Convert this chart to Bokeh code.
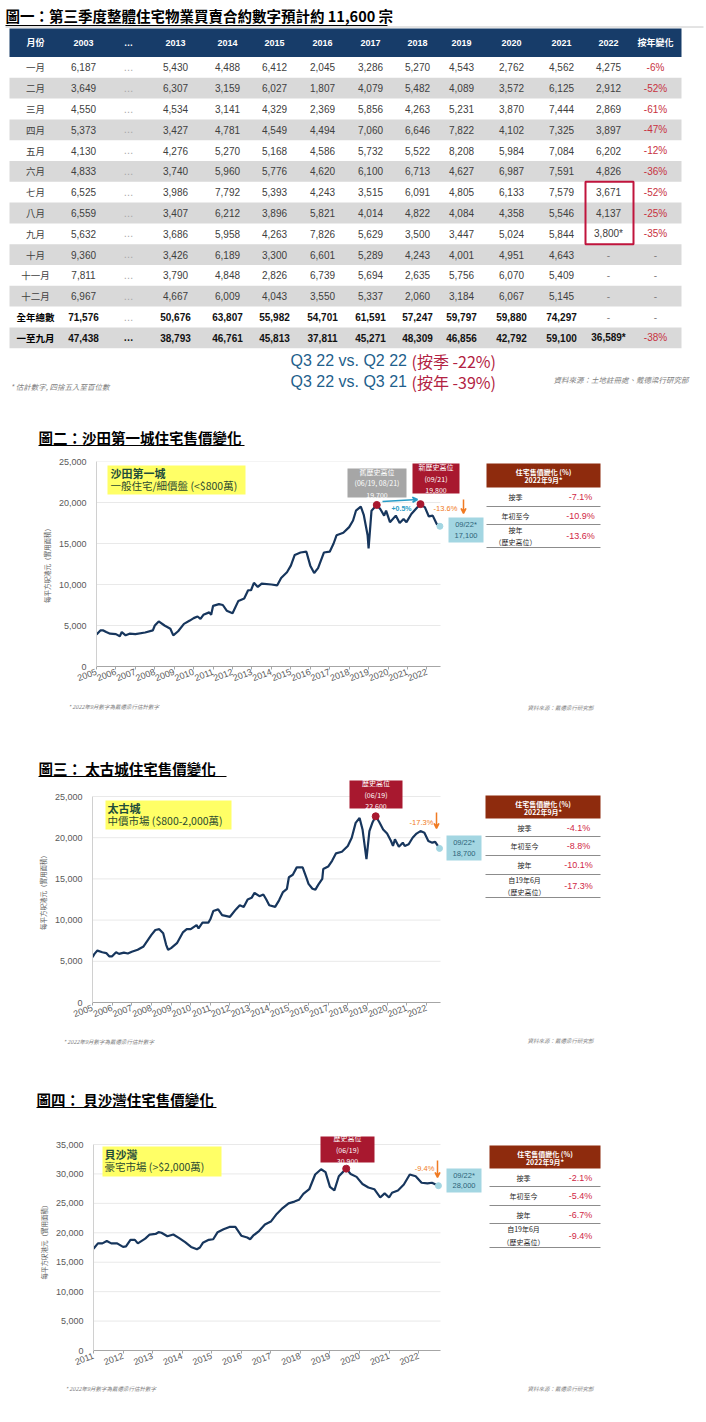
from bokeh.plotting import figure
from bokeh.layouts import column, row
from bokeh.models import Range1d, FixedTicker, NumeralTickFormatter, Arrow, VeeHead
from bokeh.core.properties import value
from bokeh.embed import file_html
from bokeh.resources import INLINE

CJK = "Noto Sans CJK TC"
LAT = "Liberation Sans"

# ---------------- Figure 1 : table data ----------------
title1 = "圖一：第三季度整體住宅物業買賣合約數字預計約 11,600 宗"
months = ["一月", "二月", "三月", "四月", "五月", "六月", "七月", "八月", "九月",
          "十月", "十一月", "十二月", "全年總數", "一至九月"]
year_cols = ["2003", "…", "2013", "2014", "2015", "2016", "2017", "2018",
             "2019", "2020", "2021", "2022"]
v2003 = [6187, 3649, 4550, 5373, 4130, 4833, 6525, 6559, 5632, 9360, 7811, 6967, 71576, 47438]
v2013 = [5430, 6307, 4534, 3427, 4276, 3740, 3986, 3407, 3686, 3426, 3790, 4667, 50676, 38793]
v2014 = [4488, 3159, 3141, 4781, 5270, 5960, 7792, 6212, 5958, 6189, 4848, 6009, 63807, 46761]
v2015 = [6412, 6027, 4329, 4549, 5168, 5776, 5393, 3896, 4263, 3300, 2826, 4043, 55982, 45813]
v2016 = [2045, 1807, 2369, 4494, 4586, 4620, 4243, 5821, 7826, 6601, 6739, 3550, 54701, 37811]
v2017 = [3286, 4079, 5856, 7060, 5732, 6100, 3515, 4014, 5629, 5289, 5694, 5337, 61591, 45271]
v2018 = [5270, 5482, 4263, 6646, 5522, 6713, 6091, 4822, 3500, 4243, 2635, 2060, 57247, 48309]
v2019 = [4543, 4089, 5231, 7822, 8208, 4627, 4805, 4084, 3447, 4001, 5756, 3184, 59797, 46856]
v2020 = [2762, 3572, 3870, 4102, 5984, 6987, 6133, 4358, 5024, 4951, 6070, 6067, 59880, 42792]
v2021 = [4562, 6125, 7444, 7325, 7084, 7591, 7579, 5546, 5844, 4643, 5409, 5145, 74297, 59100]
v2022 = [4275, 2912, 2869, 3897, 6202, 4826, 3671, 4137, 3800, None, None, None, None, 36589]
est2022 = [False, False, False, False, False, False, False, False, True,
           False, False, False, False, True]
yoy = [-6, -52, -61, -47, -12, -36, -52, -25, -35, None, None, None, None, -38]
q_left = ["Q3 22 vs. Q2 22 ", "Q3 22 vs. Q3 21 "]
q_right = ["(按季 -22%)", "(按年 -39%)"]
note1 = "* 估計數字, 四捨五入至百位數"
source1 = "資料來源：土地註冊處、戴德梁行研究部"

# ---------------- Figure 2 : 沙田第一城 ----------------
title2 = "圖二：沙田第一城住宅售價變化"
st_t = [2005.0, 2005.2, 2005.35, 2005.5, 2005.7, 2006.0, 2006.2, 2006.3, 2006.5, 2006.7,
        2007.0, 2007.5, 2007.9, 2008.0, 2008.2, 2008.5, 2008.8, 2008.95, 2009.2, 2009.5,
        2009.8, 2010.0, 2010.2, 2010.35, 2010.5, 2010.8, 2010.9, 2011.0, 2011.3, 2011.5,
        2011.7, 2012.0, 2012.3, 2012.6, 2012.8, 2012.95, 2013.1, 2013.3, 2013.5, 2014.0,
        2014.3, 2014.5, 2014.8, 2015.0, 2015.2, 2015.5, 2015.8, 2016.0, 2016.2, 2016.4,
        2016.7, 2017.0, 2017.2, 2017.35, 2017.7, 2018.0, 2018.2, 2018.35, 2018.6, 2018.75,
        2018.95, 2019.0, 2019.15, 2019.42, 2019.6, 2019.8, 2019.9, 2020.1, 2020.4, 2020.6,
        2020.8, 2020.95, 2021.2, 2021.5, 2021.67, 2021.9, 2022.1, 2022.3, 2022.5, 2022.67]
st_v = [3900, 4400, 4400, 4200, 4000, 3950, 3700, 4200, 3800, 4000,
        3950, 4150, 4400, 5000, 5500, 5000, 4600, 3800, 4300, 5200,
        5600, 5900, 6100, 5800, 6300, 6600, 6300, 7400, 7600, 7500,
        6800, 6500, 8000, 8300, 9300, 9300, 10200, 9700, 10100, 10000,
        9900, 10800, 11500, 12300, 13600, 13900, 14000, 12300, 11400, 12000,
        13900, 14000, 15000, 16000, 16300, 17000, 17800, 19000, 19500, 18500,
        16000, 14400, 19000, 19700, 19200, 18400, 19000, 17600, 18400, 17500,
        18000, 17600, 18600, 19400, 19800, 19400, 18300, 18400, 17400, 17100]
st_peak_t = [2019.42, 2021.67]
st_peak_v = [19700, 19800]
st_years = list(range(2005, 2023))
st_labels = ["按季", "年初至今", "按年\n（歷史高位）"]
st_chg = [-7.1, -10.9, -13.6]

# ---------------- Figure 3 : 太古城 ----------------
title3 = "圖三： 太古城住宅售價變化"
tk_t = [2005.0, 2005.1, 2005.25, 2005.5, 2005.7, 2005.85, 2006.0, 2006.2, 2006.35, 2006.6,
        2006.8, 2007.0, 2007.3, 2007.6, 2007.8, 2008.0, 2008.2, 2008.4, 2008.6, 2008.75,
        2008.85, 2009.0, 2009.3, 2009.6, 2009.8, 2010.0, 2010.3, 2010.4, 2010.6, 2010.9,
        2011.0, 2011.15, 2011.4, 2011.6, 2012.0, 2012.3, 2012.5, 2012.7, 2012.9, 2013.1,
        2013.25, 2013.5, 2013.7, 2013.85, 2014.0, 2014.3, 2014.5, 2014.7, 2014.9, 2015.0,
        2015.2, 2015.4, 2015.7, 2015.9, 2016.0, 2016.2, 2016.35, 2016.5, 2016.7, 2016.75,
        2017.0, 2017.2, 2017.4, 2017.7, 2018.0, 2018.2, 2018.4, 2018.6, 2018.75, 2018.95,
        2019.1, 2019.25, 2019.42, 2019.6, 2019.8, 2020.0, 2020.2, 2020.3, 2020.4, 2020.6,
        2020.8, 2020.9, 2021.1, 2021.3, 2021.5, 2021.7, 2021.9, 2022.1, 2022.3, 2022.45,
        2022.67]
tk_v = [5500, 5900, 6300, 6100, 6000, 5600, 5600, 6100, 5900, 6050,
        5950, 6150, 6400, 6800, 7500, 8200, 8800, 8900, 8400, 7000,
        6400, 6600, 7200, 8500, 8900, 8900, 9400, 9000, 9700, 9700,
        10100, 11100, 11300, 10600, 10400, 11300, 11800, 11600, 12500, 12700,
        13300, 12900, 13100, 12500, 11800, 11600, 12400, 13400, 13800, 15200,
        15500, 16400, 16400, 15100, 14400, 13800, 13700, 14300, 15000, 16200,
        16500, 17200, 18100, 18300, 19000, 20000, 21800, 22400, 21000, 17400,
        20800, 21800, 22600, 21900, 21000, 20500, 19600, 19000, 19800, 18900,
        19400, 19000, 19200, 20000, 20500, 20800, 20600, 19600, 19400, 19500,
        18700]
tk_peak_t = [2019.42]
tk_peak_v = [22600]
tk_years = list(range(2005, 2023))
tk_labels = ["按季", "年初至今", "按年", "自19年6月\n（歷史高位）"]
tk_chg = [-4.1, -8.8, -10.1, -17.3]

# ---------------- Figure 4 : 貝沙灣 ----------------
title4 = "圖四： 貝沙灣住宅售價變化"
pb_t = [2011.0, 2011.15, 2011.3, 2011.45, 2011.6, 2011.8, 2012.0, 2012.1, 2012.25, 2012.4,
        2012.5, 2012.75, 2012.9, 2013.1, 2013.2, 2013.3, 2013.5, 2013.7, 2013.9, 2014.1,
        2014.3, 2014.5, 2014.6, 2014.7, 2014.9, 2015.05, 2015.2, 2015.4, 2015.6, 2015.8,
        2016.0, 2016.2, 2016.3, 2016.4, 2016.6, 2016.8, 2017.0, 2017.2, 2017.4, 2017.6,
        2017.8, 2017.95, 2018.1, 2018.3, 2018.5, 2018.7, 2018.85, 2019.0, 2019.15, 2019.3,
        2019.55, 2019.7, 2019.9, 2020.1, 2020.3, 2020.5, 2020.7, 2020.85, 2021.0, 2021.1,
        2021.3, 2021.5, 2021.7, 2021.9, 2022.1, 2022.3, 2022.45, 2022.67]
pb_v = [17300, 18200, 18200, 18600, 18200, 18200, 17600, 17700, 18800, 18800,
        18200, 19000, 19700, 19800, 20100, 20000, 19400, 19700, 19100, 18400,
        17600, 17200, 17500, 18300, 18800, 18900, 20100, 20600, 21000, 21000,
        19500, 19200, 18900, 19500, 20300, 21400, 21900, 23200, 24200, 25000,
        25300, 25600, 26600, 27400, 29900, 30800, 30300, 27800, 27200, 29600,
        30900, 30000, 29500, 28300, 27700, 27400, 26000, 26700, 26000, 26800,
        27200, 28200, 29900, 29600, 28500, 28400, 28500, 28000]
pb_peak_t = [2019.55]
pb_peak_v = [30900]
pb_years = list(range(2011, 2023))
pb_labels = ["按季", "年初至今", "按年", "自19年6月\n（歷史高位）"]
pb_chg = [-2.1, -5.4, -6.7, -9.4]

chart_note = "* 2022年9月數字為戴德梁行估計數字"
chart_source = "資料來源：戴德梁行研究部"
ylab = "每平方呎港元（實用面積）"
side_head = ["住宅售價變化 (%)", "2022年9月*"]

# ---------------- colours ----------------
HDR = "#173C69"
BAND = "#D9D9D9"
TXT = "#404040"
RED_T = "#C8313E"
LINE_C = "#17365D"
PEAK_C = "#A8182F"
BOX_GRAY = "#A6A6A6"
BLUE_BOX = "#A3D6E2"
BLUE_TXT = "#2D6379"
ORANGE = "#F07A22"
TEAL = "#2A9CC6"
YELLOW = "#FFFF66"
GREEN_T = "#1E4D3B"
BROWN = "#8E2B0D"
VAL_RED = "#D01F45"
GRAY_T = "#7F7F7F"
W = 706


def strip(top, h):
    p = figure(width=W, height=h, x_range=Range1d(0, W), y_range=Range1d(top + h, top),
               x_axis_type=None, y_axis_type=None, toolbar_location=None,
               output_backend="svg", min_border=0, title=None)
    p.outline_line_color = None
    return p


def sec_title(p, x, y, text, x_end):
    p.text(x=[x], y=[y], text=[text], text_font=value(CJK), text_font_size="14.5px",
           text_font_style="bold", text_color="#000000", text_baseline="middle")
    p.segment(x0=[x], y0=[y + 8], x1=[x_end], y1=[y + 8], line_color="#000000",
              line_width=1)


def notes(p, nx, ny, sy):
    p.text(x=[nx], y=[ny], text=[chart_note], text_font=value(CJK), text_font_size="5.5px",
           text_font_style="italic", text_color=GRAY_T, text_baseline="middle")
    p.text(x=[527], y=[sy], text=[chart_source], text_font=value(CJK),
           text_font_size="5.5px", text_font_style="italic", text_color=GRAY_T,
           text_baseline="middle")


# ======================= Figure 1 : table (+ title of figure 2) =======================
t1 = strip(0, 452)
t1.text(x=[5], y=[15], text=[title1], text_font=value(CJK), text_font_size="14.5px",
        text_font_style="bold", text_color="#000000", text_baseline="middle")
t1.segment(x0=[5], y0=[26.5], x1=[703], y1=[26.5], line_color="#C8C8C8", line_width=1)
t1.segment(x0=[5], y0=[25], x1=[387], y1=[25], line_color="#000000", line_width=1)

ROW0, RH = 56.5, 20.8
t1.quad(left=[9], right=[681], top=[28], bottom=[ROW0], fill_color=HDR, line_color=None)
band_i = [i for i in range(len(months)) if i % 2 == 1]
t1.quad(left=[9] * len(band_i), right=[681] * len(band_i),
        top=[ROW0 + RH * i for i in band_i], bottom=[ROW0 + RH * (i + 1) for i in band_i],
        fill_color=BAND, line_color=None)

col_x = [35, 83, 128, 175, 227, 274, 322, 370, 417, 461, 511, 561, 608, 655]
hy = (28 + ROW0) / 2
t1.text(x=[col_x[0], col_x[-1]], y=[hy, hy], text=["月份", "按年變化"], text_font=value(CJK),
        text_font_size="9px", text_font_style="bold", text_color="white",
        text_align="center", text_baseline="middle")
t1.text(x=col_x[1:-1], y=[hy] * len(year_cols), text=year_cols, text_font=value(LAT),
        text_font_size="9px", text_font_style="bold", text_color="white",
        text_align="center", text_baseline="middle")

row_y = [ROW0 + RH * (i + 0.5) for i in range(len(months))]
t1.text(x=[col_x[0]] * 12, y=row_y[:12], text=months[:12], text_font=value(CJK),
        text_font_size="9.5px", text_color=TXT, text_align="center", text_baseline="middle")
t1.text(x=[col_x[0]] * 2, y=row_y[12:], text=months[12:], text_font=value(CJK),
        text_font_size="9.5px", text_font_style="bold", text_color="#000000",
        text_align="center", text_baseline="middle")

num_cols = [(1, v2003), (3, v2013), (4, v2014), (5, v2015), (6, v2016), (7, v2017),
            (8, v2018), (9, v2019), (10, v2020), (11, v2021)]
rx, ry, rt, bx, by, bt = [], [], [], [], [], []
for ci, vals in num_cols:
    for i, v in enumerate(vals):
        if i < 12:
            rx.append(col_x[ci]); ry.append(row_y[i]); rt.append(f"{v:,}")
        else:
            bx.append(col_x[ci]); by.append(row_y[i]); bt.append(f"{v:,}")
dx, dy, dt = [], [], []
for i, v in enumerate(v2022):
    if v is None:
        dx.append(col_x[12]); dy.append(row_y[i]); dt.append("-")
    elif i < 12:
        rx.append(col_x[12]); ry.append(row_y[i]); rt.append(f"{v:,}" + ("*" if est2022[i] else ""))
    else:
        bx.append(col_x[12]); by.append(row_y[i]); bt.append(f"{v:,}" + ("*" if est2022[i] else ""))
t1.text(x=rx, y=ry, text=rt, text_font=value(LAT), text_font_size="10px", text_color=TXT,
        text_align="center", text_baseline="middle")
t1.text(x=bx, y=by, text=bt, text_font=value(LAT), text_font_size="10px",
        text_font_style="bold", text_color="#111111", text_align="center", text_baseline="middle")
t1.text(x=[col_x[2]] * 13, y=row_y[:13], text=["…"] * 13, text_font=value(LAT),
        text_font_size="10px", text_color="#A6A6A6", text_align="center", text_baseline="middle")
t1.text(x=[col_x[2]], y=[row_y[13]], text=["…"], text_font=value(LAT), text_font_size="10px",
        text_font_style="bold", text_color="#111111", text_align="center", text_baseline="middle")
yx, yy, yt = [], [], []
for i, v in enumerate(yoy):
    if v is None:
        dx.append(col_x[13]); dy.append(row_y[i]); dt.append("-")
    else:
        yx.append(col_x[13]); yy.append(row_y[i]); yt.append(f"{v}%")
t1.text(x=yx, y=yy, text=yt, text_font=value(LAT), text_font_size="10px", text_color=RED_T,
        text_align="center", text_baseline="middle")
t1.text(x=dx, y=dy, text=dt, text_font=value(LAT), text_font_size="10px", text_color=GRAY_T,
        text_align="center", text_baseline="middle")
t1.quad(left=[585], right=[633], top=[ROW0 + RH * 6], bottom=[ROW0 + RH * 9],
        fill_color=None, line_color="#C0143C", line_width=2)
t1.text(x=[290, 290], y=[360, 381], text=q_left, text_font=value(LAT), text_font_size="16px",
        text_color="#1F5F8C", text_baseline="middle")
t1.text(x=[411, 411], y=[360, 381], text=q_right, text_font=value(CJK), text_font_size="16px",
        text_color="#B22242", text_baseline="middle")
t1.text(x=[10], y=[386], text=[note1], text_font=value(CJK), text_font_size="7.5px",
        text_font_style="italic", text_color=GRAY_T, text_baseline="middle")
t1.text(x=[553], y=[379], text=[source1], text_font=value(CJK), text_font_size="7.5px",
        text_font_style="italic", text_color=GRAY_T, text_baseline="middle")
sec_title(t1, 38, 437, title2, 244)


# ======================= chart helpers =======================
def make_chart(t, v, peak_t, peak_v, x0, x1, ymax, years, top, h, L, R, T, B, Ttop):
    sx = (x1 - x0) / (R - L)
    sy = ymax / (B - T)
    x_end = x0 + (W - L) * sx
    y_end = ymax + (T - Ttop) * sy
    p = figure(width=W, height=h, x_range=Range1d(x0, x_end), y_range=Range1d(0, y_end),
               min_border_left=L, min_border_right=0,
               min_border_top=Ttop - top, min_border_bottom=top + h - B,
               toolbar_location=None, output_backend="svg", title=None)
    p.outline_line_color = None
    p.grid.visible = False
    yt = list(range(0, ymax + 1, 5000))
    p.segment(x0=[x0] * len(yt), y0=yt, x1=[x1] * len(yt), y1=yt, line_color="#E9E9E9",
              line_width=1, level="underlay")
    p.xaxis.ticker = FixedTicker(ticks=years)
    p.yaxis.ticker = FixedTicker(ticks=yt)
    p.xaxis.bounds = (x0, x1)
    p.yaxis.bounds = (0, ymax)
    p.yaxis.formatter = NumeralTickFormatter(format="0,0")
    p.xaxis.major_label_orientation = 0.36
    for ax in (p.xaxis, p.yaxis):
        ax.major_label_text_font = LAT
        ax.major_label_text_font_size = "9px"
        ax.major_label_text_color = "#595959"
        ax.minor_tick_line_color = None
    p.xaxis.axis_line_color = "#A6A6A6"
    p.xaxis.major_tick_line_color = "#A6A6A6"
    p.xaxis.major_tick_in = 0
    p.xaxis.major_tick_out = 3
    p.xaxis.major_label_standoff = 2
    p.yaxis.axis_line_color = "#D0D0D0"
    p.yaxis.major_tick_line_color = None
    p.yaxis.major_label_standoff = 4
    p.yaxis.axis_label = ylab
    p.yaxis.axis_label_text_font = CJK
    p.yaxis.axis_label_text_font_size = "6.5px"
    p.yaxis.axis_label_text_font_style = "normal"
    p.yaxis.axis_label_text_color = "#595959"
    p.yaxis.axis_label_standoff = 4
    p.line(t, v, line_color=LINE_C, line_width=2.2)
    p.scatter(peak_t, peak_v, size=7, color=PEAK_C)
    p.scatter([t[-1]], [v[-1]], size=6, color=BLUE_BOX)
    fx = lambda px: x0 + (px - L) * sx
    fy = lambda py: ymax - (py - T) * sy
    return p, fx, fy


def box(p, fx, fy, a, b, c, d, color):
    p.quad(left=[fx(a)], right=[fx(c)], top=[fy(b)], bottom=[fy(d)], fill_color=color,
           line_color=None)


def txt(p, fx, fy, px, py, text, size, color, font=CJK, style="normal", align="left"):
    p.text(x=[fx(px)], y=[fy(py)], text=[text], text_font=value(font),
           text_font_size=f"{size}px", text_color=color, text_font_style=style,
           text_align=align, text_baseline="middle", text_line_height=1.15)


def arrow(p, fx, fy, xa, ya, xb, yb, color, w=1.5):
    p.add_layout(Arrow(x_start=fx(xa), y_start=fy(ya), x_end=fx(xb), y_end=fy(yb),
                       line_color=color, line_width=w,
                       end=VeeHead(size=5, line_color=color, fill_color=color, line_width=w)))


def side_table(p, fx, fy, hdr, lines, labels, chg, lab_x, val_x):
    l, t, r, b = hdr
    box(p, fx, fy, l, t, r, b, BROWN)
    p.text(x=[fx((l + r) / 2)] * 2, y=[fy(t + (b - t) * 0.36), fy(t + (b - t) * 0.70)],
           text=side_head, text_font=value(CJK), text_font_size="7px",
           text_font_style="bold", text_color="white", text_align="center",
           text_baseline="middle")
    n = len(lines)
    tops = [b] + lines[:-1]
    mids = [fy((a + c) / 2) for a, c in zip(tops, lines)]
    p.segment(x0=[fx(l)] * n, y0=[fy(y) for y in lines], x1=[fx(r)] * n,
              y1=[fy(y) for y in lines], line_color="#8C8C8C", line_width=1)
    p.text(x=[fx(lab_x)] * n, y=mids, text=labels, text_font=value(CJK),
           text_font_size="7px", text_color="#262626", text_align="center",
           text_baseline="middle", text_line_height=1.25)
    p.text(x=[fx(val_x)] * n, y=mids, text=[f"{c:.1f}%" for c in chg], text_font=value(LAT),
           text_font_size="9px", text_color=VAL_RED, text_align="center",
           text_baseline="middle")


# ======================= Figure 2 =======================
c2, fx, fy = make_chart(st_t, st_v, st_peak_t, st_peak_v, 2005, 2022.7, 25000, st_years,
                        452, 245, 96, 440, 461, 666, 461)
box(c2, fx, fy, 107, 465, 245, 494, YELLOW)
txt(c2, fx, fy, 110, 472, "沙田第一城", 11, GREEN_T, style="bold")
txt(c2, fx, fy, 110, 485, "一般住宅/細價盤 (<$800萬)", 10.5, "#2B4A30")
box(c2, fx, fy, 347, 468, 406, 497, BOX_GRAY)
txt(c2, fx, fy, 376.5, 482.5, "舊歷史高位\n(06/19, 08/21)\n19,700", 7, "white", align="center")
box(c2, fx, fy, 412, 463, 459, 493, PEAK_C)
txt(c2, fx, fy, 435.5, 478, "新歷史高位\n(09/21)\n19,800", 7, "white", align="center")
arrow(c2, fx, fy, 382, 501, 417, 499, TEAL)
txt(c2, fx, fy, 401, 508, "+0.5%", 7, TEAL, font=LAT, style="bold", align="center")
txt(c2, fx, fy, 445, 508, "-13.6%", 7.5, ORANGE, font=LAT, align="center")
arrow(c2, fx, fy, 463, 499, 463, 513, ORANGE)
box(c2, fx, fy, 448, 517, 483, 542, BLUE_BOX)
txt(c2, fx, fy, 465.5, 529.5, "09/22*\n17,100", 7.5, BLUE_TXT, font=LAT, align="center")
side_table(c2, fx, fy, (486, 463, 600, 487), [506, 524, 547], st_labels, st_chg, 515, 580)

m23 = strip(697, 82)
notes(m23, 68, 706, 707)
sec_title(m23, 38, 768, title3, 226)

# ======================= Figure 3 =======================
c3, fx, fy = make_chart(tk_t, tk_v, tk_peak_t, tk_peak_v, 2005, 2022.72, 25000, tk_years,
                        779, 251, 92, 440, 796, 1002, 779)
box(c3, fx, fy, 105, 800, 231, 829, YELLOW)
txt(c3, fx, fy, 107, 807, "太古城", 11, GREEN_T, style="bold")
txt(c3, fx, fy, 107, 820, "中價市場 ($800-2,000萬)", 10.5, "#2B4A30")
box(c3, fx, fy, 349, 780, 402, 808, PEAK_C)
txt(c3, fx, fy, 375.5, 794, "歷史高位\n(06/19)\n22,600", 7, "white", align="center")
txt(c3, fx, fy, 421, 822, "-17.3%", 7.5, ORANGE, font=LAT, align="center")
arrow(c3, fx, fy, 436, 812, 436, 828, ORANGE)
box(c3, fx, fy, 446, 835, 481, 860, BLUE_BOX)
txt(c3, fx, fy, 463.5, 847.5, "09/22*\n18,700", 7.5, BLUE_TXT, font=LAT, align="center")
side_table(c3, fx, fy, (485, 795, 600, 818), [836, 855, 874, 897], tk_labels, tk_chg, 524, 578)

m34 = strip(1030, 95)
notes(m34, 63, 1041, 1040)
sec_title(m34, 36, 1099, title4, 216)

# ======================= Figure 4 =======================
c4, fx, fy = make_chart(pb_t, pb_v, pb_peak_t, pb_peak_v, 2011, 2022.74, 35000, pb_years,
                        1125, 253, 93, 440, 1144, 1350, 1130)
box(c4, fx, fy, 102, 1146, 221, 1176, YELLOW)
txt(c4, fx, fy, 104, 1153, "貝沙灣", 11, GREEN_T, style="bold")
txt(c4, fx, fy, 104, 1166, "豪宅市場 (>$2,000萬)", 10.5, "#2B4A30")
box(c4, fx, fy, 320, 1136, 374, 1162, PEAK_C)
txt(c4, fx, fy, 347, 1149, "歷史高位\n(06/19)\n30,900", 7, "white", align="center")
txt(c4, fx, fy, 424, 1168, "-9.4%", 7.5, ORANGE, font=LAT, align="center")
arrow(c4, fx, fy, 437, 1160, 437, 1177, ORANGE)
box(c4, fx, fy, 446, 1168, 481, 1192, BLUE_BOX)
txt(c4, fx, fy, 463.5, 1180, "09/22*\n28,000", 7.5, BLUE_TXT, font=LAT, align="center")
side_table(c4, fx, fy, (489, 1145, 600, 1168), [1186, 1205, 1223, 1247], pb_labels, pb_chg,
           523, 580)

e4 = strip(1378, 40)
notes(e4, 65, 1388, 1388)

layout = column(t1, row(c2), m23, row(c3), m34, row(c4), e4)
open("out.html", "w").write(file_html(layout, INLINE))
